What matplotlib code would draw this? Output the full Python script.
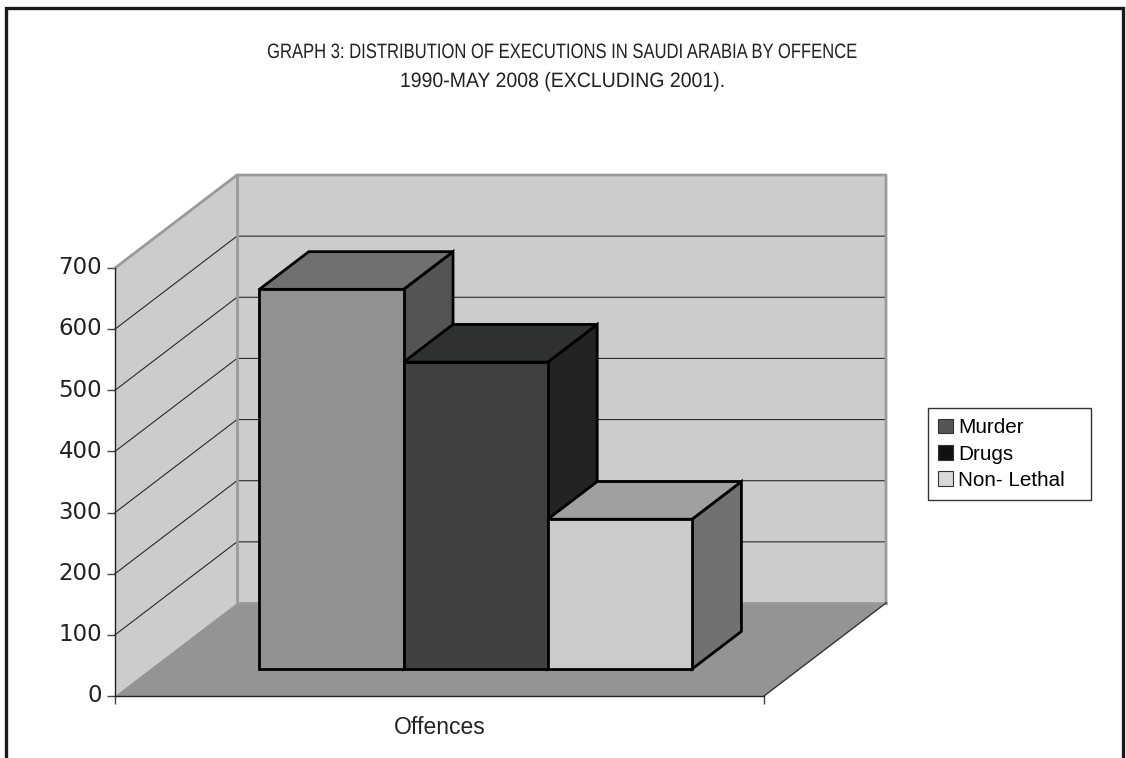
import matplotlib
matplotlib.use('Agg')
import matplotlib.pyplot as plt
from matplotlib.patches import Polygon, Patch, Rectangle
from matplotlib.patheffects import AbstractPathEffect
from matplotlib.transforms import Affine2D, ScaledTranslation

offences = ['Murder', 'Drugs', 'Non- Lethal']
executions = [621, 502, 245]
front_colors = ['#929292', '#404040', '#cbcbcb']
top_colors = ['#707070', '#303232', '#a0a0a0']
side_colors = ['#545454', '#232323', '#717171']
legend_colors = ['#555555', '#111111', '#d8d8d8']
y_ticks = [0, 100, 200, 300, 400, 500, 600, 700]
title_lines = ['GRAPH 3: DISTRIBUTION OF EXECUTIONS IN SAUDI ARABIA BY OFFENCE',
               '1990-MAY 2008 (EXCLUDING 2001).']

W, H = 1126, 758
# depth of the chart box, in axis units
DEPTH_X = 122 / 649
DEPTH_Y = 93 / 0.6114
WALL = '#cccccc'
FLOOR = '#949494'
EDGE = '#9a9a9a'
TEXT = '#222222'
LABEL_FONT = ['Liberation Sans', 'DejaVu Sans']

plt.rcParams['font.family'] = ['DejaVu Sans']


class Squeeze(AbstractPathEffect):
    # narrows text horizontally around x = cx (pixels), no condensed font is installed
    def __init__(self, sx, cx):
        super().__init__()
        self.sx = sx
        self.cx = cx

    def draw_path(self, renderer, gc, tpath, affine, rgbFace=None):
        squeeze = Affine2D().translate(-self.cx, 0).scale(self.sx, 1).translate(self.cx, 0)
        renderer.draw_path(gc, tpath, affine + squeeze, rgbFace)


fig = plt.figure(figsize=(W / 100, H / 100), dpi=100)
fig.add_artist(Rectangle((6 / W, -0.02), (1123 - 6) / W, 1.02 - 8 / H, transform=fig.transFigure,
                         fill=False, edgecolor='#1a1a1a', linewidth=2.4))

ax = fig.add_axes([115 / W, (H - 696) / H, 649 / W, 428 / H])
ax.set_xlim(0, 1)
ax.set_ylim(0, 700)
ax.patch.set_visible(False)


def project(x, y, z):
    return (x + z * DEPTH_X, y + z * DEPTH_Y)


def face(points, color, edge='none', lw=0.0, zorder=1):
    ax.add_patch(Polygon([project(*p) for p in points], closed=True, facecolor=color,
                         edgecolor=edge, linewidth=lw, clip_on=False, zorder=zorder,
                         joinstyle='miter'))


# walls and floor
face([(0, 0, 1), (1, 0, 1), (1, 700, 1), (0, 700, 1)], WALL)
face([(0, 0, 0), (0, 0, 1), (0, 700, 1), (0, 700, 0)], WALL)
face([(0, 0, 0), (1, 0, 0), (1, 0, 1), (0, 0, 1)], FLOOR)

for t in y_ticks[1:-1]:
    ax.plot(*zip(project(0, t, 0), project(0, t, 1), project(1, t, 1)), color='#2a2a2a',
            lw=0.8, clip_on=False, zorder=2)

ax.plot(*zip(project(0, 700, 0), project(0, 700, 1), project(1, 700, 1), project(1, 0, 1)),
        color=EDGE, lw=2.0, clip_on=False, zorder=2)
ax.plot(*zip(project(0, 700, 1), project(0, 0, 1), project(1, 0, 1)),
        color=EDGE, lw=2.0, clip_on=False, zorder=2)
ax.plot(*zip(project(1, 0, 0), project(1, 0, 1)), color='#333333', lw=1.0, clip_on=False, zorder=2)

# the three bars, left to right so each one covers the side of the previous
bar_w = 144.2 / 649
bar_x0 = (259.4 - 115) / 649 - 0.29 * DEPTH_X
z0, z1 = 0.29, 0.695
for i, v in enumerate(executions):
    x0 = bar_x0 + i * bar_w
    x1 = x0 + bar_w
    zo = 3 + i
    face([(x1, 0, z0), (x1, 0, z1), (x1, v, z1), (x1, v, z0)], side_colors[i], 'black', 2.0, zo)
    face([(x0, v, z0), (x1, v, z0), (x1, v, z1), (x0, v, z1)], top_colors[i], 'black', 2.0, zo)
    face([(x0, 0, z0), (x1, 0, z0), (x1, v, z0), (x0, v, z0)], front_colors[i], 'black', 2.0, zo)

for s in ['top', 'right']:
    ax.spines[s].set_visible(False)
for s in ['left', 'bottom']:
    ax.spines[s].set_color(TEXT)
    ax.spines[s].set_linewidth(1.0)
    ax.spines[s].set_zorder(2.5)

ax.set_yticks(y_ticks)
ax.set_xticks([0, 1])
ax.set_xticklabels([])
ax.tick_params(axis='both', length=5.8, width=1.0, color='#444444', labelsize=16.5,
               labelcolor=TEXT, pad=3.6)
ax.set_xlabel('Offences', fontsize=16.5, family=LABEL_FONT, color=TEXT, labelpad=5)

# y labels sit slightly above their ticks
lift = ScaledTranslation(0, 2 / 72, fig.dpi_scale_trans)
for label in ax.get_yticklabels():
    label.set_transform(label.get_transform() + lift)

handles = [Patch(facecolor=c, edgecolor='#333333', linewidth=0.8) for c in legend_colors]
fig.legend(handles, offences, loc='center left',
           bbox_to_anchor=(928 / W, (H - 500) / H, 163 / W, 92 / H), mode='expand',
           prop={'family': LABEL_FONT, 'size': 14.9}, frameon=True, fancybox=False,
           edgecolor='#333333', framealpha=1, borderpad=0.5, labelspacing=0.36,
           handlelength=0.7, handleheight=0.7, handletextpad=0.25, borderaxespad=0)

title_font = ['Liberation Sans', 'DejaVu Sans']
fig.text(563 / W, (H - 58) / H, title_lines[0], ha='center', va='baseline', fontsize=15,
         family=title_font, color=TEXT, path_effects=[Squeeze(0.797, 563)])
fig.text(563 / W, (H - 87) / H, title_lines[1], ha='center', va='baseline', fontsize=15,
         family=title_font, color=TEXT, path_effects=[Squeeze(0.935, 563)])

fig.savefig('out.png', dpi=100)
